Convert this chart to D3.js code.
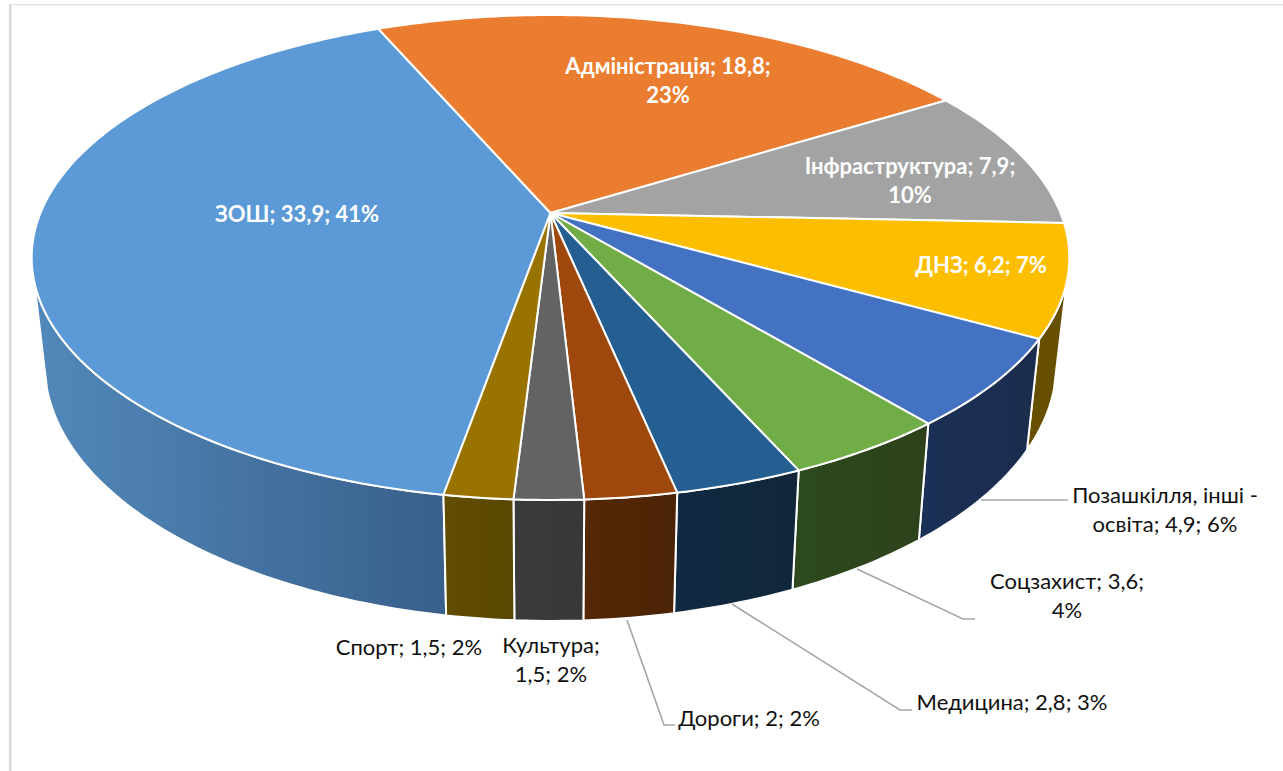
<!DOCTYPE html>
<html>
<head>
<meta charset="utf-8">
<title>Видатки</title>
<script src="https://cdn.jsdelivr.net/npm/d3@7"></script>
<style>
html, body { margin: 0; padding: 0; background: #fff; overflow: hidden; }
text { font-family: Lato, "Noto Sans", sans-serif; font-size: 22px; text-anchor: middle; }
</style>
</head>
<body>
<svg id="chart" width="1283" height="771"></svg>
<script>
'use strict';

var categories = ["ЗОШ", "Адміністрація", "Інфраструктура", "ДНЗ", "Позашкілля, інші - освіта",
                  "Соцзахист", "Медицина", "Дороги", "Культура", "Спорт"];
var values = [33.9, 18.8, 7.9, 6.2, 4.9, 3.6, 2.8, 2, 1.5, 1.5];
var percents = [41, 23, 10, 7, 6, 4, 3, 2, 2, 2];

var topColors = ["#5b9ad6", "#eb7d31", "#a3a3a3", "#fdbe00", "#4372c3",
                 "#70ad47", "#255e91", "#9e480e", "#636363", "#997300"];
var wallFrom = ["#5288bb", "#8c4a1d", "#626262", "#665000", "#1b3057",
                "#2d4a1e", "#102a42", "#552806", "#3b3b3b", "#614d00"];
var wallTo = ["#38608a", "#8c4a1d", "#626262", "#665000", "#1b2c4d",
              "#2d421c", "#11263a", "#4b2306", "#383838", "#594700"];

// label lines per slice, split the way the picture wraps them
var labelLines = [
    ["ЗОШ; 33,9; 41%"],
    ["Адміністрація; 18,8;", "23%"],
    ["Інфраструктура; 7,9;", "10%"],
    ["ДНЗ; 6,2; 7%"],
    ["Позашкілля, інші -", "освіта; 4,9; 6%"],
    ["Соцзахист; 3,6;", "4%"],
    ["Медицина; 2,8; 3%"],
    ["Дороги; 2; 2%"],
    ["Культура;", "1,5; 2%"],
    ["Спорт; 1,5; 2%"]
];
var labelX = [297, 668, 910, 981, 1165, 1067, 1012, 749, 551, 409];
var labelY = [222, 74, 174, 273, 503, 589, 710, 726, 653, 655];

var leaders = [
    [[981, 500], [1068, 500]],
    [[857, 569], [963, 619], [975, 619]],
    [[732, 604], [900, 710], [912, 710]],
    [[627, 620], [664, 725], [675, 725]]
];

var deg = Math.PI / 180;
var svg = d3.select("#chart");
var defs = svg.append("defs");

// perspective of the pie's top face, apex at (550.5, 213)
var apexX = 550.5, apexY = 213;
var radX = 510, radY = 234.3, persp = 0.1835;

var topPoint = function(a) {
    var u = Math.sin(a), v = -Math.cos(a);
    var w = 1 - persp * v;
    return [apexX + radX * u / w, apexY + radY * v / w];
};

// the bottom face sits lower, slightly narrower and seen more from above
var lowPoint = function(a) {
    var p = topPoint(a);
    return [apexX + 0.975 * (p[0] - apexX), 621 + 1.06 * (p[1] - 500)];
};

var sample = function(fn, a0, a1) {
    var n = Math.max(2, Math.ceil(Math.abs(a1 - a0) / deg));
    return d3.range(n + 1).map(function(i) { return fn(a0 + (a1 - a0) * i / n); });
};

var line = d3.line();

var pie = d3.pie().sort(null)
    .startAngle(-170.1 * deg)
    .endAngle(189.9 * deg);
var arcs = pie(values);

// frame remains
svg.append("rect").attr("x", 9).attr("y", 4).attr("width", 2.5).attr("height", 767).attr("fill", "#d9d9d9");
svg.append("rect").attr("x", 9).attr("y", 4).attr("width", 1274).attr("height", 1.2).attr("fill", "#dedede");

// walls, only the part that faces the viewer
var visFrom = 106 * deg, visTo = 254 * deg;
var walls = arcs.map(function(d, i) {
    var s = d.startAngle, e = d.endAngle;
    if (s < 0) { s += 2 * Math.PI; e += 2 * Math.PI; }
    return { i: i, a0: Math.max(s, visFrom), a1: Math.min(e, visTo) };
}).filter(function(w) { return w.a1 > w.a0; });

// ЗОШ wraps around: its start is at the front, its end far at the back
var zosh = arcs[0];
walls = walls.filter(function(w) { return w.i !== 0; });
walls.unshift({ i: 0, a0: zosh.startAngle + 2 * Math.PI, a1: visTo });

walls.forEach(function(w) {
    var top = sample(topPoint, w.a0, w.a1);
    var low = sample(lowPoint, w.a0, w.a1).reverse();
    var xs = top.concat(low).map(function(p) { return p[0]; });
    var id = "wall" + w.i;
    var grad = defs.append("linearGradient").attr("id", id)
        .attr("gradientUnits", "userSpaceOnUse")
        .attr("x1", d3.min(xs)).attr("x2", d3.max(xs)).attr("y1", 0).attr("y2", 0);
    grad.append("stop").attr("offset", 0).attr("stop-color", wallFrom[w.i]);
    grad.append("stop").attr("offset", 1).attr("stop-color", wallTo[w.i]);
    svg.append("path")
        .attr("d", line(top.concat(low)) + "Z")
        .attr("fill", "url(#" + id + ")")
        .attr("stroke", "#fff")
        .attr("stroke-width", 2)
        .attr("stroke-linejoin", "round");
});

// top face
svg.selectAll("path.slice")
    .data(arcs)
    .enter().append("path")
    .attr("class", "slice")
    .attr("d", function(d) {
        return line([[apexX, apexY]].concat(sample(topPoint, d.startAngle, d.endAngle))) + "Z";
    })
    .attr("fill", function(d, i) { return topColors[i]; })
    .attr("stroke", "#fff")
    .attr("stroke-width", 2)
    .attr("stroke-linejoin", "round");

// leader lines
svg.selectAll("path.leader")
    .data(leaders)
    .enter().append("path")
    .attr("class", "leader")
    .attr("d", function(d) { return line(d); })
    .attr("fill", "none")
    .attr("stroke", "#a6a6a6")
    .attr("stroke-width", 1.6);

// labels
labelLines.forEach(function(lines, i) {
    var inside = i < 4;
    var t = svg.append("text")
        .attr("x", labelX[i])
        .attr("y", labelY[i])
        .attr("fill", inside ? "#fff" : "#111")
        .attr("font-weight", inside ? 700 : 400);
    lines.forEach(function(s, k) {
        t.append("tspan").attr("x", labelX[i]).attr("dy", k === 0 ? 0 : 29).text(s);
    });
});
</script>
</body>
</html>
